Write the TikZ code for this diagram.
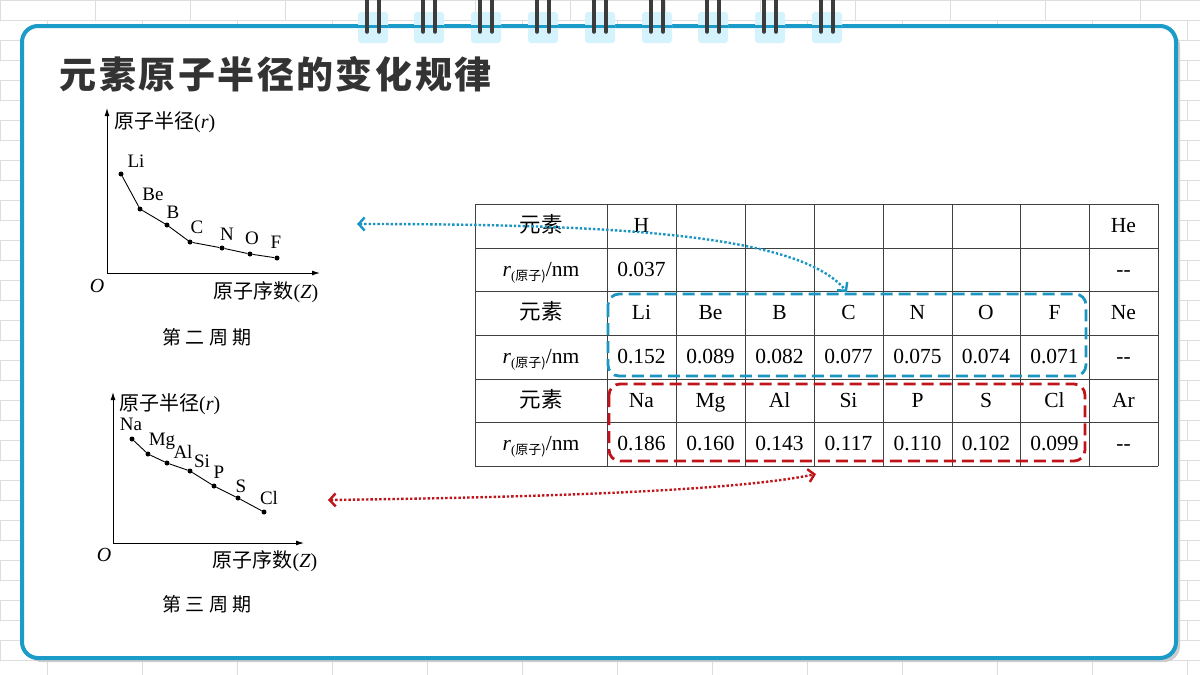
\documentclass[tikz,border=0pt]{standalone}
\usepackage{fontspec}
\setmainfont{Liberation Serif}
\newfontfamily\cjk{Noto Sans CJK SC}
\usetikzlibrary{arrows.meta}
\definecolor{frameblue}{HTML}{1A9BC8}
\definecolor{tabblue}{HTML}{D4F3FC}
\definecolor{ringgray}{HTML}{3C3C3C}
\definecolor{brick}{HTML}{DDDDDD}
\definecolor{dblue}{HTML}{1B95C2}
\definecolor{dred}{HTML}{C0141B}
\newcommand{\rnm}{\textit{r}\raisebox{-0.45ex}{\fontsize{13}{13}\selectfont(\cjk 原子)}/nm}
\newcommand{\colx}[1]{\ifcase#1 541\or 641.5\or 710.5\or 779.5\or 848.5\or 917.5\or 986\or 1054.5\or 1123.5\fi}
\newcommand{\rowy}[1]{\ifcase#1 226\or 269.5\or 313\or 357\or 400.5\or 444\fi}
\newcommand{\tk}{\kern2.5pt}
\tikzset{
  cell/.style={font=\fontsize{21.5}{21.5}\selectfont, inner sep=0pt, text height=17pt, text depth=4pt},
  lbl/.style={font=\fontsize{19}{19}\selectfont, inner sep=0pt},
  axlbl/.style={font=\fontsize{20}{20}\selectfont, inner sep=0pt},
  pt/.style={circle, fill=black, inner sep=0pt, minimum size=5pt},
  axis/.style={line width=1pt, -{Latex[length=8pt,width=5pt]}},
  curve/.style={line width=0.9pt},
  dotarrow/.style={line width=2.4pt, dotted, {Straight Barb[length=6pt,width=13pt]}-{Straight Barb[length=6pt,width=13pt]}},
  dashbox/.style={line width=2.8pt, dash pattern=on 12pt off 6pt, rounded corners=11pt},
}
\begin{document}
\begin{tikzpicture}[x=1pt,y=-1pt]
\useasboundingbox (0,0) rectangle (1200,675);
\fill[white] (0,0) rectangle (1200,675);
% brick background
\foreach \r in {0,...,34}{
  \draw[brick,line width=0.8pt] (0,\r*20) -- (1200,\r*20);
  \pgfmathsetmacro{\off}{mod(\r,2)*47}
  \foreach \c in {0,...,13}{
    \draw[brick,line width=0.8pt] (\off+\c*95,\r*20) -- (\off+\c*95,\r*20+20);
  }
}
% frame
\fill[black!20,rounded corners=16pt] (26,30) rectangle (1180,662);
\draw[frameblue,line width=4pt,fill=white,rounded corners=16pt] (22,26) rectangle (1176,658);
% rings
\foreach \x in {373,429,486,543,600,657,713,770,827}{
  \fill[tabblue,rounded corners=3pt] (\x-15,12) rectangle (\x+15,43);
  \draw[frameblue,line width=3pt] (\x-15,26) -- (\x+15,26);
  \draw[ringgray,line width=3.5pt,line cap=round] (\x-6,0) -- (\x-6,32);
  \draw[ringgray,line width=3.5pt,line cap=round] (\x+6,0) -- (\x+6,32);
}
% title
\node[anchor=west,text=black!80,font=\cjk\bfseries\fontsize{37}{37}\selectfont] (title) at (56,74) {元\tk 素\tk 原\tk 子\tk 半\tk 径\tk 的\tk 变\tk 化\tk 规\tk 律};

% graph 1
\coordinate (o1) at (107,273);
\draw[axis] (o1) -- (107,108);
\draw[axis] (o1) -- (320,273);
\node[axlbl,anchor=west] (y1) at (114,122) {{\cjk 原子半径}(\textit{r})};
\node[axlbl] (O1) at (97,286) {\textit{O}};
\node[axlbl] (x1) at (266,292) {{\cjk 原子序数}(\textit{Z})};
\node[font=\cjk\fontsize{19}{19}\selectfont] (p2) at (207,337) {第 二 周 期};
\foreach \n/\x/\y/\lx/\ly in {Li/121/174/136/161, Be/140/209/153/194, B/167/225/173/212, C/190/242/197/227, N/222/248/227/234, O/250/254/252/238, F/277/258/276/242}{
  \node[pt] (g1\n) at (\x,\y) {};
  \node[lbl] (l1\n) at (\lx,\ly) {\n};
}
\draw[curve] (g1Li) -- (g1Be) -- (g1B) -- (g1C) -- (g1N) -- (g1O) -- (g1F);

% graph 2
\coordinate (o2) at (113,543);
\draw[axis] (o2) -- (113,392);
\draw[axis] (o2) -- (304,543);
\node[axlbl,anchor=west] (y2) at (119,404) {{\cjk 原子半径}(\textit{r})};
\node[axlbl] (O2) at (104,555) {\textit{O}};
\node[axlbl] (x2) at (265,561) {{\cjk 原子序数}(\textit{Z})};
\node[font=\cjk\fontsize{19}{19}\selectfont] (p3) at (207,604) {第 三 周 期};
\foreach \n/\x/\y/\lx/\ly in {Na/132/439/131/424, Mg/148/454/162/441, Al/167/463/183/452, Si/190/471/202/461, P/214/486/219/472, S/238/498/241/486, Cl/264/512/269/498}{
  \node[pt] (g2\n) at (\x,\y) {};
  \node[lbl] (l2\n) at (\lx,\ly) {\n};
}
\draw[curve] (g2Na) -- (g2Mg) -- (g2Al) -- (g2Si) -- (g2P) -- (g2S) -- (g2Cl);

% table
\foreach \y in {204,248,291,335,379,422,466} \draw[black!75,line width=1pt] (475,\y) -- (1158,\y);
\foreach \x in {475,607,676,745,814,883,952,1020,1089,1158} \draw[black!75,line width=1pt] (\x,204) -- (\x,466);
\foreach \row [count=\i from 0] in {
  {{\cjk 元素},H,,,,,,,He},
  {\rnm,0.037,,,,,,,{-}{-}},
  {{\cjk 元素},Li,Be,B,C,N,O,F,Ne},
  {\rnm,0.152,0.089,0.082,0.077,0.075,0.074,0.071,{-}{-}},
  {{\cjk 元素},Na,Mg,Al,Si,P,S,Cl,Ar},
  {\rnm,0.186,0.160,0.143,0.117,0.110,0.102,0.099,{-}{-}}}{
  \foreach \t [count=\j from 0] in \row {
    \node[cell] (c-\i-\j) at (\colx{\j},\rowy{\i}) {\t};
  }
}
% dashed boxes
\draw[dblue,dashbox] (608,294) rectangle (1086,376);
\draw[dred,dashbox] (609,384) rectangle (1085,461);
% arrows
\coordinate (bl) at (357,224);
\coordinate (br) at (847,292);
\draw[dblue,dotarrow] (bl) .. controls (620,224) and (800,235) .. (br);
\coordinate (rl) at (328,500);
\coordinate (rr) at (816,474);
\draw[dred,dotarrow] (rl) .. controls (560,497) and (740,490) .. (rr);
\end{tikzpicture}
\end{document}
